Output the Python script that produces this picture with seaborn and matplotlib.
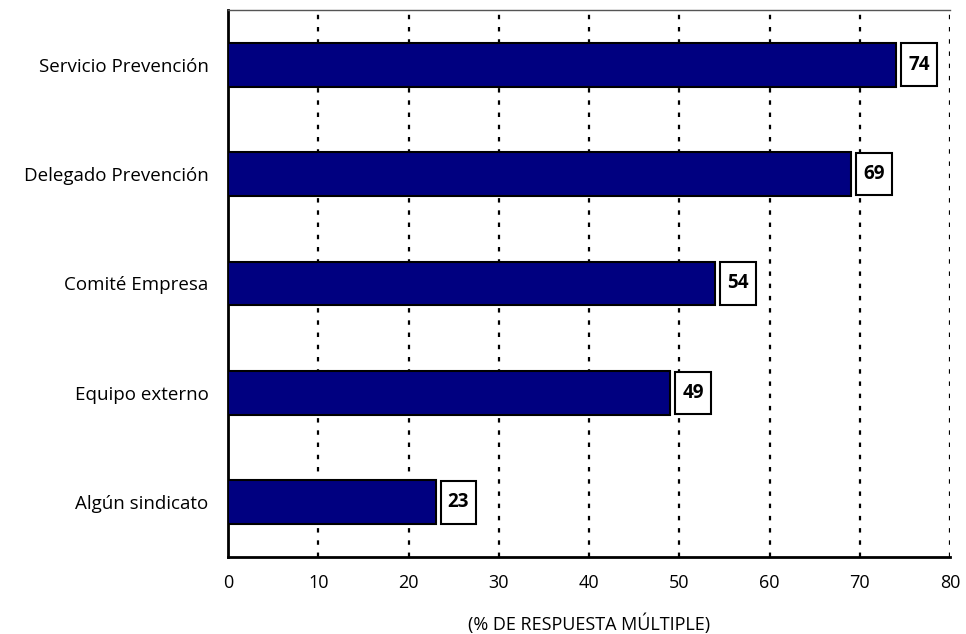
import matplotlib
matplotlib.use("Agg")
import matplotlib.pyplot as plt
import seaborn as sns
import pandas as pd

categories = ["Servicio Prevención", "Delegado Prevención", "Comité Empresa", "Equipo externo", "Algún sindicato"]
values = [74, 69, 54, 49, 23]
xticks = [0, 10, 20, 30, 40, 50, 60, 70, 80]
xlabel = "(% DE RESPUESTA MÚLTIPLE)"

sns.set_style("white")
plt.rcParams['font.family'] = ['Open Sans', 'DejaVu Sans']
plt.rcParams['text.color'] = 'black'
plt.rcParams['axes.labelcolor'] = 'black'
plt.rcParams['xtick.color'] = 'black'
plt.rcParams['ytick.color'] = 'black'

df = pd.DataFrame({"cat": categories, "val": values})

fig = plt.figure(figsize=(9.66, 6.34), dpi=100)
ax = fig.add_axes([228/966, 1-557/634, (950-228)/966, (557-10)/634])

sns.barplot(data=df, x="val", y="cat", orient="h", color="#000080", saturation=1,
            width=0.4, edgecolor="black", linewidth=1.5, ax=ax, zorder=3)

ax.set_xlim(0, 80)
ax.set_ylim(len(categories) - 0.5, -0.5)
ax.set_xticks(xticks)
ax.set_xticklabels([str(t) for t in xticks], fontsize=13)
ax.set_xlabel(xlabel, fontsize=13, labelpad=16)
ax.set_ylabel("")

# category labels at bar centers, ticks at boundaries
ax.set_yticks(range(len(categories)))
ax.set_yticklabels(categories, fontsize=13.5)
ax.tick_params(axis="y", which="major", length=0, pad=14)
ax.set_yticks([i - 0.5 for i in range(len(categories) + 1)], minor=True)
ax.tick_params(axis="y", which="minor", length=5, width=1.5, direction="out", color="black")
ax.tick_params(axis="x", which="major", length=5, width=1.5, direction="out", color="black", pad=7)

for t in xticks[1:]:
    ax.axvline(t, color="black", linestyle=(0, (2, 3.5)), linewidth=1.6, zorder=1)

for s in ["left", "bottom"]:
    ax.spines[s].set_color("black")
    ax.spines[s].set_linewidth(2)
ax.spines["right"].set_visible(False)
ax.spines["top"].set_color("#555555")
ax.spines["top"].set_linewidth(1)

for i, v in enumerate(values):
    ax.text(v + 1.35, i, str(v), va="center", ha="left", fontsize=13.5, fontweight="bold",
            color="black",
            bbox=dict(boxstyle="square,pad=0.38", mutation_aspect=1.6, facecolor="white",
                      edgecolor="black", linewidth=1.5),
            zorder=4)

fig.savefig("out.png", dpi=100)
